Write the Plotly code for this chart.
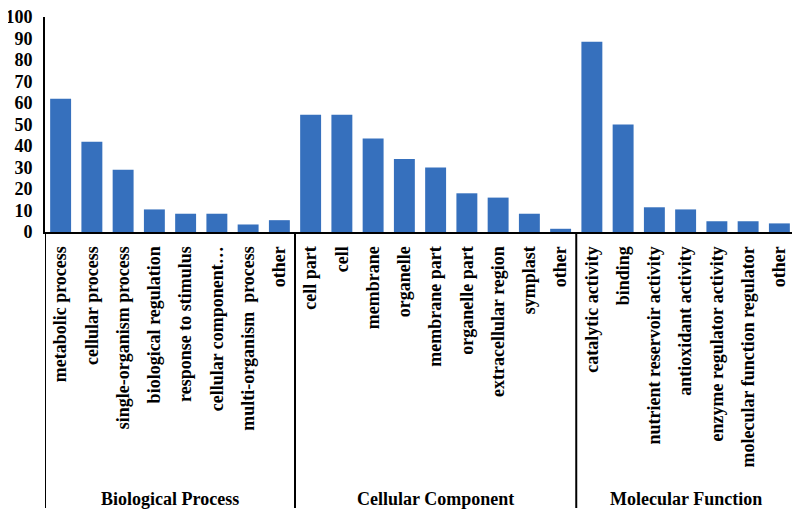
import plotly.graph_objects as go

bp_terms = ["metabolic process", "cellular process", "single-organism process",
            "biological regulation", "response to stimulus", "cellular component…",
            "multi-organism  process", "other"]
bp_values = [62, 42, 29, 10.5, 8.5, 8.5, 3.5, 5.5]

cc_terms = ["cell part", "cell", "membrane", "organelle", "membrane part",
            "organelle part", "extracellular region", "symplast", "other"]
cc_values = [54.5, 54.5, 43.5, 34, 30, 18, 16, 8.5, 1.5]

mf_terms = ["catalytic activity", "binding", "nutrient reservoir activity",
            "antioxidant activity", "enzyme regulator activity",
            "molecular function regulator", "other"]
mf_values = [88.5, 50, 11.5, 10.5, 5, 5, 4]

groups = ["Biological Process", "Cellular Component", "Molecular Function"]
y_ticks = [0, 10, 20, 30, 40, 50, 60, 70, 80, 90, 100]

terms = bp_terms + cc_terms + mf_terms
values = bp_values + cc_values + mf_values
x_idx = list(range(len(terms)))

FONT = "Liberation Serif"

fig = go.Figure()
fig.add_trace(go.Bar(x=x_idx, y=values, marker=dict(color="#3670bd", line=dict(width=0)),
                     width=0.67, hoverinfo="y"))

# page body adds an 8px margin, so the figure is sized to fit the 800x513 window
fig.update_layout(
    width=792, height=505,
    margin=dict(l=37, r=5, t=9, b=281),
    plot_bgcolor="white", paper_bgcolor="white",
    showlegend=False,
    font=dict(family=FONT, size=18, color="black"),
    xaxis=dict(
        range=[-0.5, len(terms) - 0.5], automargin=False,
        tickmode="array", tickvals=x_idx, ticktext=terms,
        tickangle=-90, ticks="", showgrid=False, zeroline=False,
        showline=True, linecolor="black", linewidth=2,
        tickfont=dict(family=FONT, size=18, color="black", weight="bold"),
        ticklabelstandoff=5,
    ),
    yaxis=dict(
        range=[0, 100], tickmode="array", tickvals=y_ticks, automargin=False,
        ticks="", showgrid=False, zeroline=False,
        showline=True, linecolor="black", linewidth=2,
        tickfont=dict(family=FONT, size=18, color="black", weight="bold"),
        ticklabelstandoff=7, ticklabeloverflow="allow",
    ),
)

# group dividers and labels
sizes = [len(bp_terms), len(cc_terms), len(mf_terms)]
bounds = [-0.5]
for s in sizes:
    bounds.append(bounds[-1] + s)
plot_h = 505 - 9 - 281
for b in bounds:
    fig.add_shape(type="line", xref="x", yref="paper", x0=b, x1=b, y0=0, y1=-276 / plot_h,
                  line=dict(color="black", width=2))
for i, g in enumerate(groups):
    center = (bounds[i] + bounds[i + 1]) / 2
    fig.add_annotation(x=center, y=-267 / plot_h, xref="x", yref="paper", text="<b>" + g + "</b>",
                       showarrow=False, yanchor="middle",
                       font=dict(family=FONT, size=18, color="black"))

fig.write_html("out.html")
